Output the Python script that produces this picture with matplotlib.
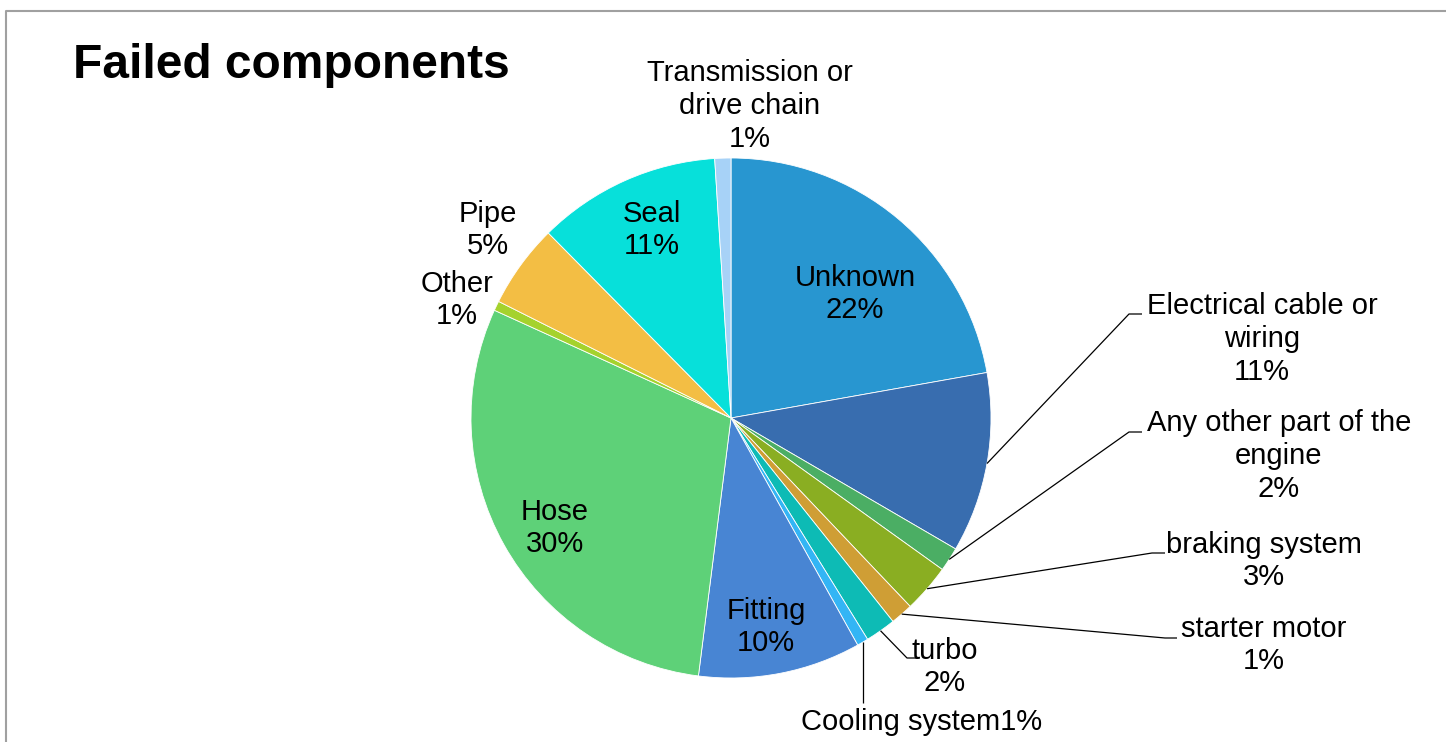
"""
Failed components pie chart
"""
import numpy as np
import matplotlib
matplotlib.use('Agg')
import matplotlib.pyplot as plt

plt.rcParams['font.family'] = ['Liberation Sans', 'DejaVu Sans']

# data, clockwise from 12 o'clock
categories = ["Unknown", "Electrical cable or\nwiring", "Any other part of the\nengine",
              "braking system", "starter motor", "turbo", "Cooling system", "Fitting",
              "Hose", "Other", "Pipe", "Seal", "Transmission or\ndrive chain"]
shares = [22.2, 11.2, 1.5, 3.0, 1.4, 1.9, 0.7, 10.1, 29.8, 0.6, 5.2, 11.4, 1.0]
colors = ["#2896D0", "#386DAF", "#4BAE64", "#8AAE22", "#CF9E35", "#0DBBB5", "#33B5F5",
          "#4885D3", "#5ED178", "#A5D22D", "#F3BE44", "#07E0DA", "#A7D2F7"]

W, H = 1446, 742
fig = plt.figure(figsize=(W / 100, H / 100), dpi=100)
ax = fig.add_axes([0, 0, 1, 1])

cx, cy, R = 731, 418, 260


def Y(y):
    # image row -> data y
    return H - y


wedges, _ = ax.pie(shares, colors=colors, startangle=90, counterclock=False,
                   center=(cx, Y(cy)), radius=R,
                   wedgeprops=dict(edgecolor='white', linewidth=0.6))
ax.set_xlim(0, W)
ax.set_ylim(0, H)
ax.axis('off')

# label centre (image px), separator, leader elbow points
layout = {
    "Unknown": (855, 294, "\n", None),
    "Electrical cable or\nwiring": (1262, 339, "\n", [(1129, 314), (1142, 314)]),
    "Any other part of the\nengine": (1279, 456, "\n", [(1129, 432), (1142, 432)]),
    "braking system": (1264, 561, "\n", [(1152, 553), (1165, 553)]),
    "starter motor": (1264, 645, "\n", [(1165, 638), (1177, 638)]),
    "turbo": (945, 667, "\n", [(907, 658), (918, 658)]),
    "Cooling system": (922, 722, "", "down"),
    "Fitting": (766, 627, "\n", None),
    "Hose": (555, 528, "\n", None),
    "Other": (457, 300, "\n", None),
    "Pipe": (488, 230, "\n", None),
    "Seal": (652, 230, "\n", None),
    "Transmission or\ndrive chain": (750, 106, "\n", None),
}

for w, name, val in zip(wedges, categories, shares):
    x, y, sep, lead = layout[name]
    ax.text(x, Y(y), f"{name}{sep}{round(val)}%", ha='center', va='center',
            fontsize=21, linespacing=1.22, color='black')
    if lead is None:
        continue
    mid = np.deg2rad((w.theta1 + w.theta2) / 2)
    x0 = cx + R * np.cos(mid)
    y0 = cy - R * np.sin(mid)
    if lead == "down":
        pts = [(x0, y0), (x0, 703)]
    else:
        pts = [(x0, y0)] + lead
    xs = [p[0] for p in pts]
    ys = [Y(p[1]) for p in pts]
    ax.plot(xs, ys, color='black', linewidth=0.9, solid_capstyle='butt')

ax.text(73, Y(66), "Failed components", ha='left', va='center',
        fontsize=34.5, fontweight='bold')

# chart frame
ax.plot([6, 6, W], [0, Y(11), Y(11)], color='#a0a0a0', linewidth=1.5)

fig.savefig('out.png', dpi=100)
